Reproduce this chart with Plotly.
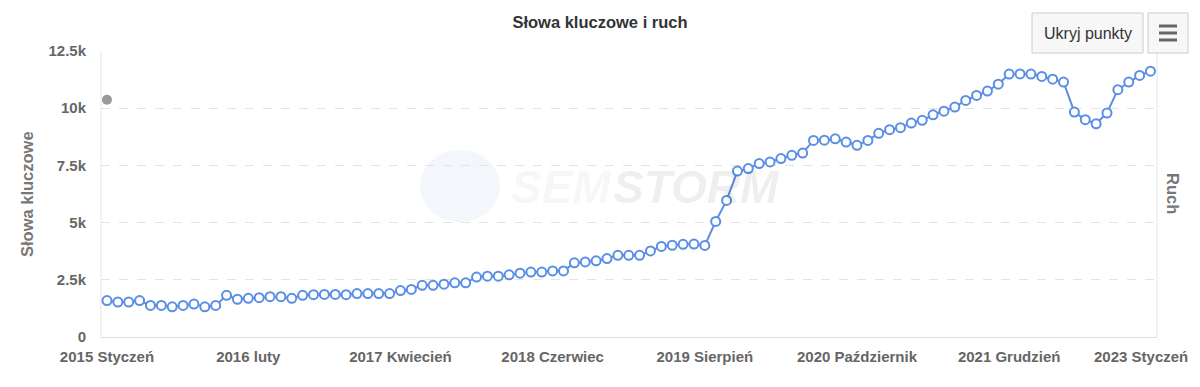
import plotly.graph_objects as go

# ---- data ----
years = [2015, 2016, 2017, 2018, 2019, 2020, 2021, 2022, 2023]
month_names = ["Styczeń", "luty", "Marzec", "Kwiecień", "Maj", "Czerwiec", "Lipiec",
               "Sierpień", "Wrzesień", "Październik", "Listopad", "Grudzień"]
categories = [f"{y} {m}" for y in years for m in month_names][:97]  # 2015 Styczeń .. 2023 Styczeń

keywords = [1590, 1530, 1530, 1590, 1380, 1380, 1320, 1380, 1440, 1320, 1380, 1820,
            1650, 1690, 1720, 1760, 1760, 1690, 1820, 1850, 1860, 1860, 1850, 1900,
            1900, 1900, 1900, 2030, 2080, 2260, 2260, 2310, 2370, 2370, 2620, 2660,
            2660, 2720, 2790, 2840, 2840, 2890, 2890, 3240, 3280, 3330, 3430, 3570,
            3570, 3570, 3760, 3960, 4010, 4050, 4060, 4000, 5050, 5970, 7250, 7360,
            7580, 7650, 7800, 7940, 8040, 8590, 8600, 8660, 8520, 8380, 8590, 8900,
            9060, 9150, 9350, 9470, 9710, 9870, 10050, 10340, 10560, 10750, 11050, 11490,
            11500, 11490, 11390, 11270, 11140, 9830, 9500, 9320, 9790, 10810, 11140, 11430,
            11620]

traffic_x = ["2015 Styczeń"]
traffic = [10370]

x_tick_labels = ["2015 Styczeń", "2016 luty", "2017 Kwiecień", "2018 Czerwiec",
                 "2019 Sierpień", "2020 Październik", "2021 Grudzień", "2023 Styczeń"]
y_tick_vals = [0, 2500, 5000, 7500, 10000, 12500]
y_tick_text = ["0", "2.5k", "5k", "7.5k", "10k", "12.5k"]

# ---- layout geometry ----
W, H = 1200, 387
L, R, T, B = 101, 1157, 51, 337


def px(x):
    return (x - L) / (R - L)


def py(y):
    return (B - y) / (B - T)


FONT = "Liberation Sans, Arial, sans-serif"
BLUE = "#5a8fe3"
TICKFONT = dict(family=FONT, size=15, color="#666666", weight="bold")

fig = go.Figure()
fig.add_trace(go.Scatter(
    x=categories, y=keywords, mode="lines+markers", name="Słowa kluczowe",
    line=dict(color=BLUE, width=2),
    marker=dict(symbol="circle", size=9, color="white", line=dict(color=BLUE, width=2)),
    hoverinfo="x+y",
))
fig.add_trace(go.Scatter(
    x=traffic_x, y=traffic, mode="markers", name="Ruch", yaxis="y2",
    marker=dict(size=10, color="#999999"),
))

shapes = []
# watermark globe
shapes.append(dict(type="circle", xref="paper", yref="paper", layer="below",
                   x0=px(420), x1=px(500), y0=py(222), y1=py(150),
                   fillcolor="#f3f6fb", line=dict(width=0)))
# buttons
shapes.append(dict(type="rect", xref="paper", yref="paper",
                   x0=px(1032), x1=px(1143), y0=py(53), y1=py(13),
                   fillcolor="#f7f7f7", line=dict(color="#cccccc", width=1)))
shapes.append(dict(type="rect", xref="paper", yref="paper",
                   x0=px(1148), x1=px(1188), y0=py(53), y1=py(13),
                   fillcolor="#f7f7f7", line=dict(color="#cccccc", width=1)))
for yy in (26, 33, 40):
    shapes.append(dict(type="line", xref="paper", yref="paper",
                       x0=px(1159), x1=px(1177), y0=py(yy), y1=py(yy),
                       line=dict(color="#666666", width=3)))
# plot border left/right
for xx in (L, R):
    shapes.append(dict(type="line", xref="paper", yref="paper", layer="below",
                       x0=px(xx), x1=px(xx), y0=0, y1=1,
                       line=dict(color="#e6e6e6", width=1)))

annotations = [
    dict(text="<i><b>SEM</b></i>",
         xref="paper", yref="paper", xanchor="right", yanchor="middle",
         x=px(614), y=py(187), showarrow=False,
         font=dict(family=FONT, size=46, color="rgba(0,0,0,0.05)")),
    dict(text="<i><b>STORM</b></i>",
         xref="paper", yref="paper", xanchor="left", yanchor="middle",
         x=px(611), y=py(187), showarrow=False,
         font=dict(family=FONT, size=46, color="rgba(0,0,0,0.08)")),
    dict(text="Ukryj punkty", xref="paper", yref="paper",
         xanchor="center", yanchor="middle",
         x=px(1087.5), y=py(33), showarrow=False,
         font=dict(family=FONT, size=16, color="#333333")),
    dict(text="<b>Słowa kluczowe</b>", xref="paper", yref="paper",
         xanchor="center", yanchor="middle",
         x=px(27), y=py(194), showarrow=False, textangle=-90,
         font=dict(family=FONT, size=16.5, color="#777777")),
    dict(text="<b>Ruch</b>", xref="paper", yref="paper",
         xanchor="center", yanchor="middle",
         x=px(1173), y=py(193), showarrow=False, textangle=90,
         font=dict(family=FONT, size=16.5, color="#777777")),
    # last x label, kept inside the chart like the reference
    dict(text=x_tick_labels[-1], xref="paper", yref="paper",
         xanchor="right", yanchor="middle",
         x=px(1190), y=py(356), showarrow=False, font=TICKFONT),
]

tick_text = x_tick_labels[:-1] + [""]

fig.update_layout(
    width=W, height=H,
    margin=dict(l=L, r=W - R, t=T, b=H - B, autoexpand=False),
    paper_bgcolor="white", plot_bgcolor="white",
    showlegend=False,
    title=dict(text="<b>Słowa kluczowe i ruch</b>", x=0.5, xanchor="center",
               y=1 - 22 / H, yanchor="middle",
               font=dict(family=FONT, size=16.5, color="#333333")),
    font=dict(family=FONT),
    xaxis=dict(type="category", categoryorder="array", categoryarray=categories,
               range=[-0.55, 96.6], tickmode="array", tickvals=x_tick_labels,
               ticktext=tick_text, showgrid=False, zeroline=False,
               showline=True, linecolor="#dddddd", linewidth=1, ticks="",
               automargin=False, ticklabelstandoff=6, tickfont=TICKFONT),
    yaxis=dict(range=[0, 12500], tickmode="array", tickvals=y_tick_vals,
               ticktext=y_tick_text, showgrid=True, gridcolor="#e3e3e3",
               griddash="dash", gridwidth=1, zeroline=False, showline=False,
               automargin=False, ticklabelstandoff=14, tickfont=TICKFONT),
    yaxis2=dict(range=[0, 12500], overlaying="y", side="right", automargin=False,
                showgrid=False, showticklabels=False, zeroline=False),
    shapes=shapes,
    annotations=annotations,
)

fig.write_html("out.html")
